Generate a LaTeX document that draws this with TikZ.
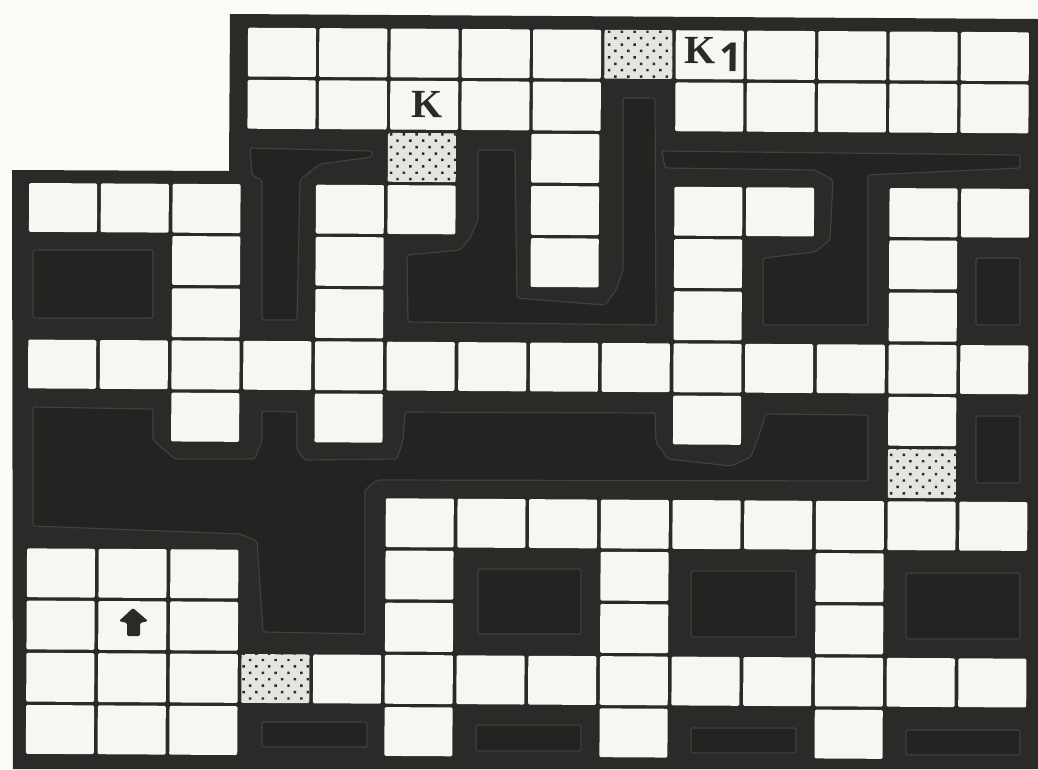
\documentclass[tikz,border=0pt]{standalone}
\usepackage{amsmath}
\usepackage{fontspec}
\usepackage{tikz}
\usetikzlibrary{patterns.meta,positioning}
\newfontfamily\keyfont{Liberation Serif}
\newfontfamily\digitfont{Open Sans}
\definecolor{WallDark}{RGB}{42,43,40}
\definecolor{BlockDark}{RGB}{35,36,33}
\definecolor{BlockEdge}{RGB}{64,65,61}
\definecolor{CellWhite}{RGB}{246,247,242}
\definecolor{PageWhite}{RGB}{251,251,247}
\definecolor{ShadeGrey}{RGB}{228,229,223}
\tikzset{
  cellbox/.style={draw=none, fill=CellWhite, rounded corners=1pt, inner sep=0pt,
    minimum width=51pt, minimum height=36.6pt, text=WallDark},
  shadebox/.style={cellbox, preaction={fill=ShadeGrey},
    pattern={Dots[radius=1.3pt, distance=6.8pt, angle=45]}, pattern color=WallDark},
  wallblock/.style={draw=BlockEdge, fill=BlockDark, line width=0.9pt, rounded corners=1.5pt},
  keylabel/.style={font=\fontsize{30}{30}\selectfont\keyfont\bfseries}
}
\begin{document}
\begin{tikzpicture}[x=0.75pt, y=-0.75pt]
  \useasboundingbox (0,0) rectangle (1038,769);
  \fill[PageWhite] (0,0) rectangle (1038,769);
  % walls
  \fill[WallDark] (230,14) -- (1038,19) -- (1038,769) -- (13,769) -- (12,170) -- (229,171) -- cycle;
  % inner blocks
  \draw[wallblock] (33,250) rectangle (153,318);
  \draw[wallblock] (250,148) -- (372,151) -- (372,157) -- (320,164) -- (300,180) -- (297,320)
    -- (262,320) -- (262,180) -- (252,175) -- cycle;
  \draw[wallblock] (478,150) -- (515,150) -- (517,298) -- (605,305) -- (616,290) -- (623,270)
    -- (623,98) -- (655,98) -- (656,325) -- (408,322) -- (407,255) -- (460,250) -- (470,238)
    -- (478,220) -- cycle;
  \draw[wallblock] (662,151) -- (1020,155) -- (1020,168) -- (868,175) -- (868,325) -- (763,325)
    -- (763,258) -- (815,252) -- (830,240) -- (833,180) -- (815,170) -- (665,168) -- cycle;
  \draw[wallblock] (976,258) rectangle (1020,325);
  \draw[wallblock] (33,407) -- (153,409) -- (153,440) -- (175,459) -- (255,459) -- (262,440)
    -- (262,411) -- (297,412) -- (297,450) -- (305,460) -- (397,459) -- (403,440) -- (405,412)
    -- (655,413) -- (656,442) -- (668,459) -- (731,466) -- (751,457) -- (763,424) -- (765,414)
    -- (868,415) -- (868,481) -- (377,480) -- (365,490) -- (365,634) -- (263,632) -- (257,541)
    -- (240,534) -- (33,526) -- cycle;
  \draw[wallblock] (976,416) rectangle (1020,483);
  \draw[wallblock] (478,569) rectangle (581,634);
  \draw[wallblock] (691,571) rectangle (796,637);
  \draw[wallblock] (906,573) rectangle (1020,639);
  \draw[wallblock] (262,722) rectangle (367,747);
  \draw[wallblock] (476,725) rectangle (581,751);
  \draw[wallblock] (691,728) rectangle (796,753);
  \draw[wallblock] (906,730) rectangle (1020,755);
  % rooms
  \begin{scope}[shift={(64,51)}, rotate=-0.34, transform shape]
    \foreach \r/\cols in {0/{3,4,5,6,7,10,11,12,13}, 1/{3,4,6,7,9,10,11,12,13}, 2/{7},
        3/{0,1,2,4,5,7,9,10,12,13}, 4/{2,4,7,9,12}, 5/{2,4,9,12},
        6/{0,1,2,3,4,5,6,7,8,9,10,11,12,13}, 7/{2,4,9,12},
        9/{5,6,7,8,9,10,11,12,13}, 10/{0,1,2,5,8,11}, 11/{0,2,5,8,11},
        12/{0,1,2,4,5,6,7,8,9,10,11,12,13}, 13/{0,1,2,5,8,11}}
      \foreach \c in \cols
        \node[cellbox] (cell\r-\c) at ({\c*71.7+(\r<2)*(4-\c*0.4)},{\r*52.2}) {};
    \foreach \r/\c in {0/8, 2/5, 8/12, 12/3}
      \node[shadebox] (shade\r-\c) at ({\c*71.7+(\r<2)*(4-\c*0.4)},{\r*52.2}) {};
    \node[cellbox, keylabel] (keyK) at ({5*71.3+4},{1*52.2}) {\kern4pt\raisebox{2pt}{K}};
    \node[cellbox, keylabel] (keyKone) at ({9*71.3+4},{0*52.2})
      {\kern6pt\raisebox{-1pt}{K}\kern3pt\raisebox{-7pt}{\digitfont\bfseries 1}};
    \node[cellbox] (start) at ({1*71.7},{11*52.2}) {};
  \end{scope}
  % start marker
  \fill[WallDark, rounded corners=1pt] (133,608) -- (148,621) -- (140,623) -- (140,636) -- (127,636)
    -- (127,623) -- (119,621) -- cycle;
\end{tikzpicture}
\end{document}
